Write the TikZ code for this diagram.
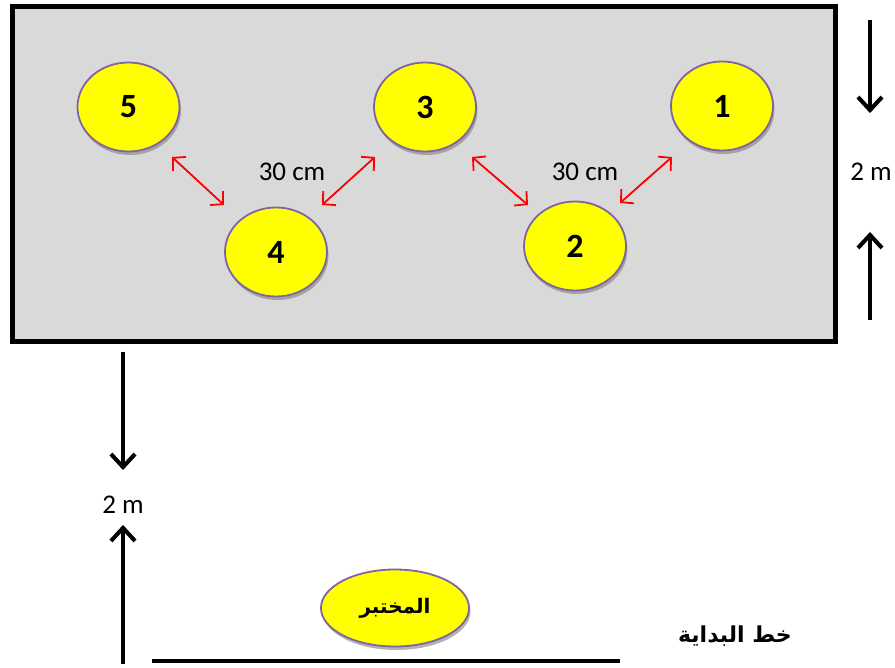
\documentclass[tikz,border=0pt]{standalone}
\usepackage{fontspec}
\setmainfont{Carlito}
\newfontfamily\arabicfont[Script=Arabic]{DejaVu Sans}
\TeXXeTstate=1
\usetikzlibrary{arrows.meta,shapes.geometric,shadows}
\definecolor{fieldgray}{RGB}{217,217,217}
\definecolor{rimpurple}{RGB}{128,100,162}
\definecolor{discyellow}{RGB}{255,255,0}
\tikzset{
  disc/.style={ellipse, draw=rimpurple, line width=1.8pt, fill=discyellow,
    minimum width=102pt, minimum height=89pt, inner sep=0pt,
    font=\fontsize{34}{36}\selectfont\bfseries,
    drop shadow={shadow xshift=1.5pt, shadow yshift=-3.5pt, opacity=0.6, fill=gray}},
  gap/.style={draw=red, line width=1.8pt, {Straight Barb[length=9pt,width=19pt]}-{Straight Barb[length=9pt,width=19pt]}},
  meas/.style={draw=black, line width=4pt, -{Straight Barb[length=13pt,width=24pt]}},
  measshadow/.style={meas, draw=gray!55},
  lbl/.style={font=\fontsize{27}{29}\selectfont, inner sep=0pt}
}
\begin{document}
\begin{tikzpicture}[x=1pt,y=-1pt]
\useasboundingbox (0,0) rectangle (895,668);
\draw[line width=5pt, fill=fieldgray] (12.5,6.5) rectangle (835.5,341.5);
\node[disc] (c5) at (128.5,107) {5};
\node[disc] (c3) at (425,107) {3};
\node[disc] (c1) at (722,106) {1};
\node[disc] (c4) at (276,252) {4};
\node[disc] (c2) at (575,246) {2};
\node[disc, minimum width=148pt, minimum height=77pt, font=\fontsize{20}{22}\selectfont\arabicfont\bfseries] (lab) at (395,608) {\beginR المختبر\endR};
\coordinate (a1) at (172,157); \coordinate (a2) at (224,205);
\coordinate (b1) at (322,205); \coordinate (b2) at (375,157);
\coordinate (d1) at (472,157); \coordinate (d2) at (528,205);
\coordinate (e1) at (620,203); \coordinate (e2) at (672,157);
\draw[gap] (a1) -- (a2);
\draw[gap] (b1) -- (b2);
\draw[gap] (d1) -- (d2);
\draw[gap] (e1) -- (e2);
\node[lbl] (t1) at (292,172) {30 cm};
\node[lbl] (t2) at (585,172) {30 cm};
% right measure
\coordinate (r1) at (870,20); \coordinate (r2) at (870,113);
\coordinate (r3) at (870,320); \coordinate (r4) at (870,232);
\draw[measshadow, shift={(1.5,3)}] (r1) -- (r2);
\draw[meas] (r1) -- (r2);
\draw[measshadow, shift={(1.5,3)}] (r3) -- (r4);
\draw[meas] (r3) -- (r4);
\node[lbl] (m1) at (871,172) {2 m};
% left measure
\coordinate (l1) at (123,352); \coordinate (l2) at (123,470);
\coordinate (l3) at (123,664); \coordinate (l4) at (123,525);
\draw[measshadow, shift={(1.5,3)}] (l1) -- (l2);
\draw[meas] (l1) -- (l2);
\draw[measshadow, shift={(1.5,3)}] (l3) -- (l4);
\draw[meas] (l3) -- (l4);
\node[lbl] (m2) at (123,505) {2 m};
% start line
\coordinate (s1) at (152,661); \coordinate (s2) at (620,661);
\draw[line width=4.5pt] (s1) -- (s2);
\node[font=\fontsize{22}{24}\selectfont\arabicfont\bfseries, inner sep=0pt] (start) at (735,636) {\beginR خط البداية\endR};
\end{tikzpicture}
\end{document}
